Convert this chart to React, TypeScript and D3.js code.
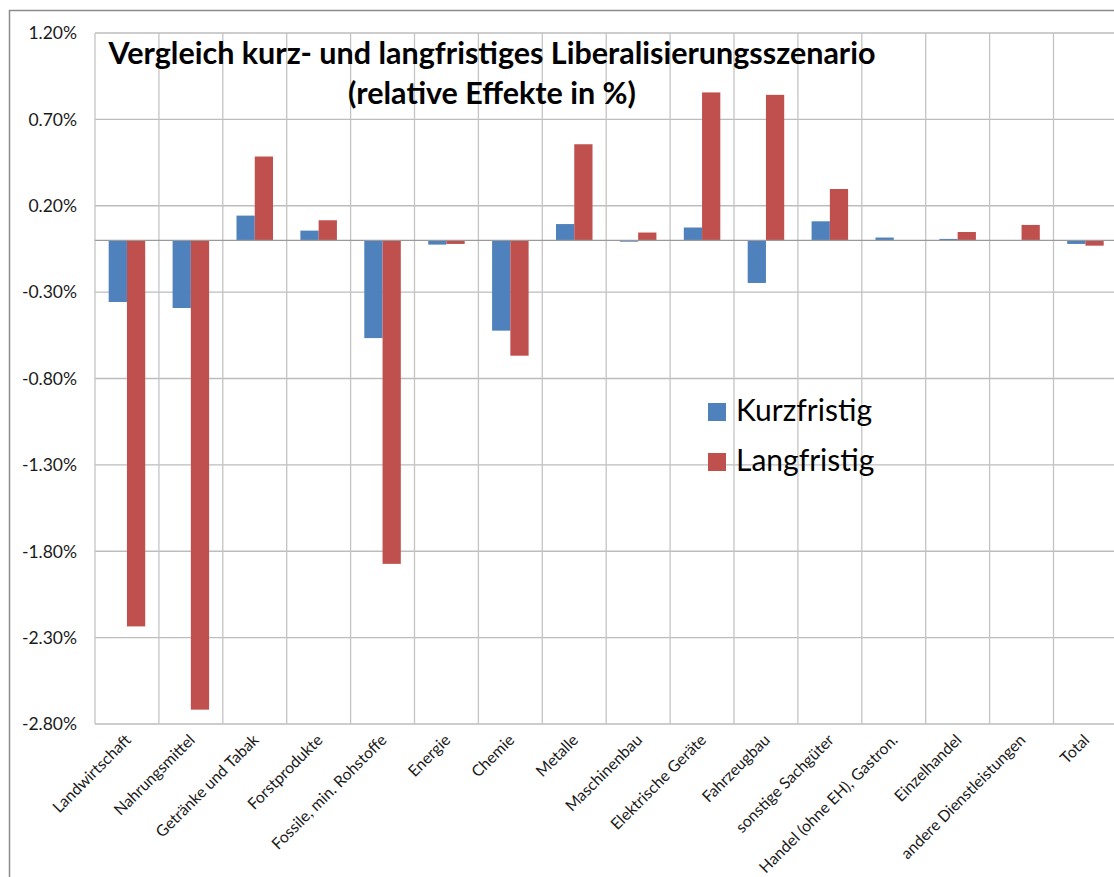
import React from 'react';
import { scaleBand, scaleLinear, range } from 'd3';

const categories = [
  'Landwirtschaft',
  'Nahrungsmittel',
  'Getränke und Tabak',
  'Forstprodukte',
  'Fossile, min. Rohstoffe',
  'Energie',
  'Chemie',
  'Metalle',
  'Maschinenbau',
  'Elektrische Geräte',
  'Fahrzeugbau',
  'sonstige Sachgüter',
  'Handel (ohne EH), Gastron.',
  'Einzelhandel',
  'andere Dienstleistungen',
  'Total',
];

// values in percent
const kurzfristig = [
  -0.357, -0.392, 0.143, 0.056, -0.566, -0.025, -0.523, 0.094, -0.008, 0.074, -0.247, 0.11, 0.016, 0.008, -0.004, -0.021,
];
const langfristig = [
  -2.235, -2.717, 0.485, 0.116, -1.873, -0.021, -0.668, 0.556, 0.045, 0.856, 0.842, 0.297, 0.0, 0.048, 0.089, -0.031,
];
const seriesNames = ['Kurzfristig', 'Langfristig'];
const seriesColors = ['#4F81BD', '#C0504D'];
const yTicks = [1.2, 0.7, 0.2, -0.3, -0.8, -1.3, -1.8, -2.3, -2.8];

const W = 1114;
const H = 877;
const left = 95;
const step = 63.9;
const top = 33;
const bottom = 724;
const font = 'Lato, Calibri, "Open Sans", sans-serif';

export default function App() {
  const x = scaleBand<string>().domain(categories).range([left, left + step * categories.length]).paddingInner(0).paddingOuter(0);
  const xs = scaleBand<string>().domain(seriesNames).range([0, x.bandwidth()]).paddingInner(0).paddingOuter(0.75);
  const y = scaleLinear().domain([-2.8, 1.2]).range([bottom, top]);
  const data = [kurzfristig, langfristig];

  return (
    <div style={{ position: 'absolute', left: 0, top: 0 }}>
      <svg width={W} height={H} style={{ display: 'block', background: '#fff' }} fontFamily={font}>
        {/* outer frame */}
        <path d={`M9.5,${H} V10.5 H${W}`} fill="none" stroke="#8c8c8c" strokeWidth={1.5} />

        {/* horizontal gridlines */}
        {yTicks.map((t) => (
          <line key={'h' + t} x1={left} x2={W} y1={y(t)} y2={y(t)} stroke="#bdbdbd" strokeWidth={1.3} />
        ))}
        {/* vertical gridlines */}
        {range(categories.length + 1).map((i) => {
          const xx = left + i * x.step();
          return <line key={'v' + i} x1={xx} x2={xx} y1={top} y2={bottom} stroke="#c4c4c4" strokeWidth={1.3} />;
        })}

        {/* bars */}
        {data.map((vals, si) =>
          vals.map((v, ci) => {
            const bx = (x(categories[ci]) as number) + (xs(seriesNames[si]) as number);
            const y0 = y(0);
            const y1 = y(v);
            return (
              <rect
                key={si + '-' + ci}
                x={bx}
                y={Math.min(y0, y1)}
                width={xs.bandwidth()}
                height={Math.abs(y1 - y0)}
                fill={seriesColors[si]}
              />
            );
          })
        )}

        {/* zero axis line */}
        <line x1={left} x2={W} y1={y(0)} y2={y(0)} stroke="#9a9a9a" strokeWidth={1.2} />

        {/* y tick labels */}
        {yTicks.map((t) => (
          <text key={'yl' + t} x={77} y={y(t)} dy="0.36em" textAnchor="end" fontSize={17.5} fill="#1a1a1a">
            {t.toFixed(2) + '%'}
          </text>
        ))}

        {/* x labels */}
        {categories.map((c) => {
          const cx = (x(c) as number) + x.bandwidth() / 2 + 5;
          const cy = 741;
          return (
            <text key={'xl' + c} transform={`translate(${cx},${cy}) rotate(-45)`} textAnchor="end" fontSize={15.8} fill="#1a1a1a">
              {c}
            </text>
          );
        })}

        {/* title */}
        <text x={492} y={64} textAnchor="middle" fontSize={30.5} fontWeight="bold" fill="#000">
          Vergleich kurz- und langfristiges Liberalisierungsszenario
        </text>
        <text x={492} y={104} textAnchor="middle" fontSize={30.5} fontWeight="bold" fill="#000">
          (relative Effekte in %)
        </text>

        {/* legend */}
        {seriesNames.map((s, i) => (
          <g key={'lg' + s} transform={`translate(708,${403 + i * 50})`}>
            <rect x={0} y={0} width={18} height={18} fill={seriesColors[i]} />
            <text x={28} y={18} fontSize={30} fill="#000">
              {s}
            </text>
          </g>
        ))}
      </svg>
    </div>
  );
}
